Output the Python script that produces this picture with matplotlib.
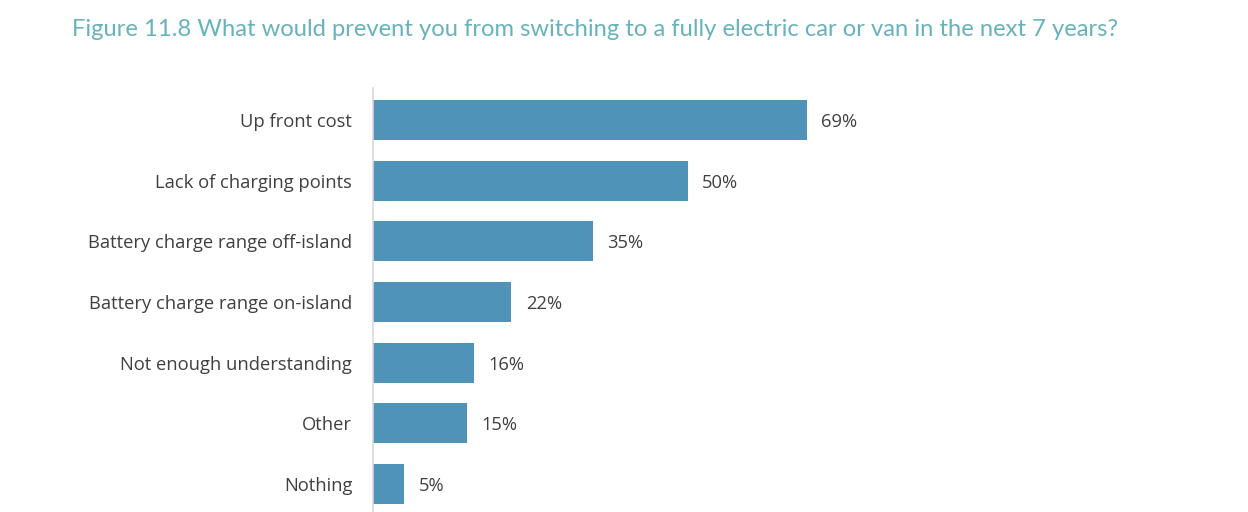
import matplotlib.pyplot as plt

categories = [
    "Up front cost",
    "Lack of charging points",
    "Battery charge range off-island",
    "Battery charge range on-island",
    "Not enough understanding",
    "Other",
    "Nothing",
]
values = [69, 50, 35, 22, 16, 15, 5]
title = "Figure 11.8 What would prevent you from switching to a fully electric car or van in the next 7 years?"

bar_color = "#4f93b8"
text_color = "#404040"
title_color = "#67b3bc"

fig = plt.figure(figsize=(12.48, 5.12), dpi=100)
ax = fig.add_axes([373 / 1248, 0, 629 / 1248, 424 / 512])

y = list(range(len(categories)))
ax.barh(y, values, height=0.66, color=bar_color)
ax.set_xlim(0, 100)
ax.set_ylim(6.46, -0.527)

for yi, v in zip(y, values):
    ax.text(v + 2.3, yi, f"{v}%", va="center_baseline", ha="left",
            fontsize=13.2, color=text_color, family="Open Sans")

ax.set_yticks(y)
ax.set_yticklabels(categories, fontsize=13.2, color=text_color, family="Open Sans")
ax.tick_params(axis="y", length=0, pad=15)
ax.set_xticks([])
for s in ["top", "right", "bottom"]:
    ax.spines[s].set_visible(False)
ax.spines["left"].set_color("#d9d9d9")
ax.spines["left"].set_linewidth(1.2)

fig.text(72 / 1248, 1 - 30 / 512, title, fontsize=17.1, color=title_color,
         family="Lato", va="center", ha="left")

fig.savefig("out.png", dpi=100)
